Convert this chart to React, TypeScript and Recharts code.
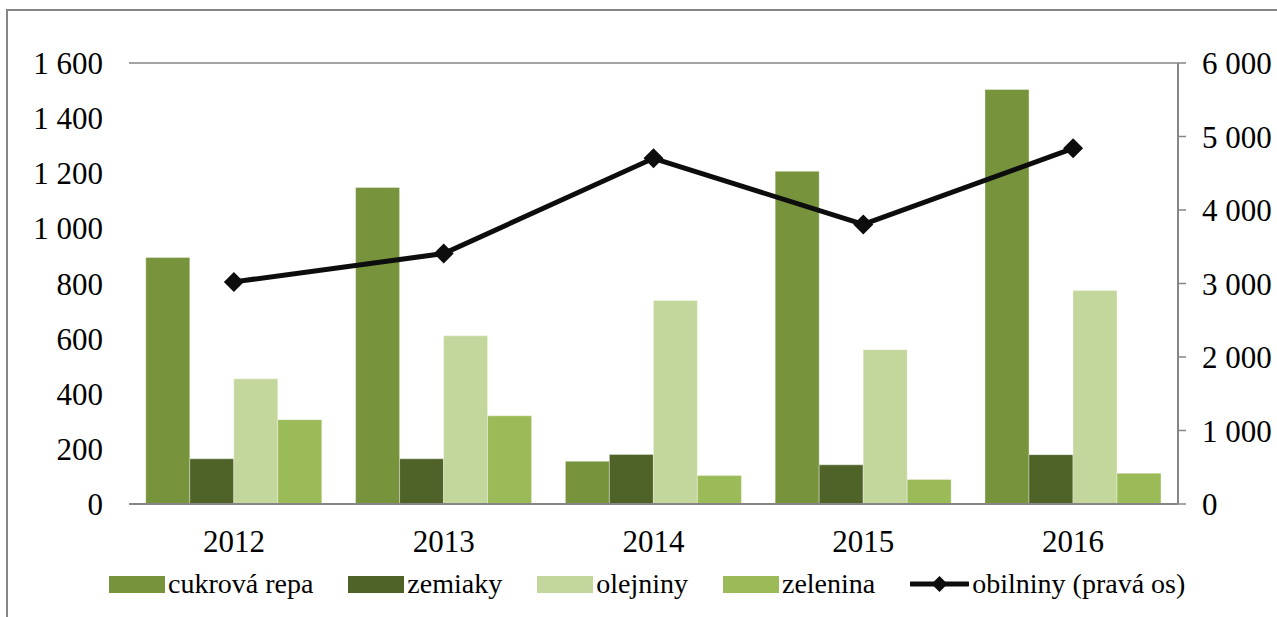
import React from 'react';
import { ComposedChart, Bar, Line, XAxis, YAxis, CartesianGrid } from 'recharts';

const years = ['2012', '2013', '2014', '2015', '2016'];
const cukrovaRepa = [894, 1148, 155, 1207, 1504];
const zemiaky = [164, 164, 180, 142, 179];
const olejniny = [454, 610, 738, 560, 775];
const zelenina = [306, 320, 103, 89, 112];
const obilniny = [3022, 3408, 4703, 3804, 4839];
const leftTicks = [0, 200, 400, 600, 800, 1000, 1200, 1400, 1600];
const rightTicks = [0, 1000, 2000, 3000, 4000, 5000, 6000];

const seriesNames = ['cukrová repa', 'zemiaky', 'olejniny', 'zelenina', 'obilniny (pravá os)'];
const seriesColors = ['#77933C', '#4F6228', '#C3D69B', '#9BBB59', '#0D0D0D'];

const data = years.map((y, i) => ({
  year: y,
  cukrova: cukrovaRepa[i],
  zemiaky: zemiaky[i],
  olejniny: olejniny[i],
  zelenina: zelenina[i],
  obilniny: obilniny[i],
}));

const FONT = '"Liberation Serif", "Times New Roman", serif';
const GRID = '#868686';

const fmt = (n: number) =>
  n >= 1000 ? `${Math.floor(n / 1000)} ${String(n % 1000).padStart(3, '0')}` : String(n);

const Diamond = (props: any) => {
  const { cx, cy } = props;
  if (cx == null || cy == null) return null;
  const r = 10;
  return (
    <path
      d={`M${cx},${cy - r} L${cx + r},${cy} L${cx},${cy + r} L${cx - r},${cy} Z`}
      fill="#0D0D0D"
    />
  );
};

const LegendBox = () => (
  <div
    style={{
      position: 'absolute',
      left: 109,
      top: 570,
      display: 'flex',
      alignItems: 'center',
      gap: 35,
      fontFamily: FONT,
      fontSize: 28,
      color: '#000',
      whiteSpace: 'nowrap',
    }}
  >
    {seriesNames.map((name, i) => (
      <div key={name} style={{ display: 'flex', alignItems: 'center' }}>
        {i < 4 ? (
          <div style={{ width: 56, height: 17, background: seriesColors[i] }} />
        ) : (
          <svg width={59} height={20}>
            <line x1={1} y1={10} x2={58} y2={10} stroke="#0D0D0D" strokeWidth={5} strokeLinecap="round" />
            <path d="M29.5,2 L37.5,10 L29.5,18 L21.5,10 Z" fill="#0D0D0D" />
          </svg>
        )}
        <span style={{ marginLeft: 3, lineHeight: '28px' }}>{name}</span>
      </div>
    ))}
  </div>
);

export default function App() {
  return (
    <div style={{ position: 'fixed', left: 0, top: 0, width: 1277, height: 617, background: '#fff', overflow: 'hidden' }}>
      <div
        style={{
          position: 'absolute',
          left: 6,
          top: 9,
          width: 1290,
          height: 640,
          border: `2px solid ${GRID}`,
          boxSizing: 'border-box',
        }}
      />
      <div style={{ position: 'absolute', left: 0, top: 0 }}>
        <ComposedChart
          width={1277}
          height={617}
          data={data}
          margin={{ top: 63, right: 0, left: 29, bottom: 0 }}
          barCategoryGap="8%"
          barGap={0}
        >
          <CartesianGrid vertical={false} stroke={GRID} strokeWidth={1.5} />
          <XAxis
            dataKey="year"
            height={113}
            axisLine={{ stroke: GRID, strokeWidth: 2 }}
            tickLine={false}
            tickMargin={20}
            tick={{ fill: '#000', fontFamily: FONT, fontSize: 31 }}
          />
          <YAxis
            yAxisId="left"
            orientation="left"
            width={100}
            domain={[0, 1600]}
            ticks={leftTicks}
            interval={0}
            axisLine={false}
            tickLine={false}
            tickMargin={20}
            tickFormatter={fmt}
            tick={{ fill: '#000', fontFamily: FONT, fontSize: 31 }}
          />
          <YAxis
            yAxisId="right"
            orientation="right"
            width={99}
            domain={[0, 6000]}
            ticks={rightTicks}
            interval={0}
            axisLine={{ stroke: GRID, strokeWidth: 2 }}
            tickLine={{ stroke: GRID, strokeWidth: 1.5 }}
            tickSize={8}
            tickMargin={16}
            tickFormatter={fmt}
            tick={{ fill: '#000', fontFamily: FONT, fontSize: 31, textAnchor: 'start' }}
          />
          <Bar yAxisId="left" dataKey="cukrova" name={seriesNames[0]} fill={seriesColors[0]} stroke="#ffffff" strokeOpacity={0.35} strokeWidth={1} isAnimationActive={false} />
          <Bar yAxisId="left" dataKey="zemiaky" name={seriesNames[1]} fill={seriesColors[1]} stroke="#ffffff" strokeOpacity={0.35} strokeWidth={1} isAnimationActive={false} />
          <Bar yAxisId="left" dataKey="olejniny" name={seriesNames[2]} fill={seriesColors[2]} stroke="#ffffff" strokeOpacity={0.35} strokeWidth={1} isAnimationActive={false} />
          <Bar yAxisId="left" dataKey="zelenina" name={seriesNames[3]} fill={seriesColors[3]} stroke="#ffffff" strokeOpacity={0.35} strokeWidth={1} isAnimationActive={false} />
          <Line
            yAxisId="right"
            dataKey="obilniny"
            name={seriesNames[4]}
            stroke={seriesColors[4]}
            strokeWidth={5}
            dot={<Diamond />}
            activeDot={false}
            isAnimationActive={false}
          />
        </ComposedChart>
      </div>
      <LegendBox />
    </div>
  );
}
